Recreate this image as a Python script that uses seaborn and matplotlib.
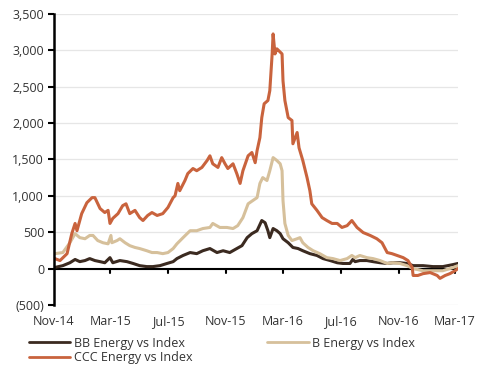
import matplotlib
matplotlib.use("Agg")
import matplotlib.pyplot as plt
import seaborn as sns
import pandas as pd

bb_dates = ["2014-11-03","2014-11-20","2014-12-05","2014-12-16","2014-12-26","2015-01-06","2015-01-16","2015-01-27","2015-02-07","2015-02-17","2015-02-28","2015-03-06","2015-03-21","2015-04-05","2015-04-18","2015-05-02","2015-05-17","2015-05-30","2015-06-14","2015-06-29","2015-07-12","2015-07-20","2015-08-02","2015-08-17","2015-08-31","2015-09-13","2015-09-28","2015-10-13","2015-10-26","2015-11-09","2015-11-24","2015-12-05","2015-12-16","2015-12-26","2016-01-06","2016-01-16","2016-01-23","2016-01-29","2016-02-02","2016-02-09","2016-02-17","2016-02-24","2016-03-01","2016-03-12","2016-03-22","2016-04-02","2016-04-12","2016-04-27","2016-05-12","2016-05-25","2016-06-09","2016-06-24","2016-07-06","2016-07-21","2016-07-27","2016-08-01","2016-08-11","2016-08-26","2016-09-08","2016-09-23","2016-10-08","2016-10-20","2016-11-04","2016-11-19","2016-12-02","2016-12-23","2017-01-13","2017-02-03","2017-02-25","2017-03-07"]
bb_vals = [15,40,80,125,95,110,137,110,95,80,150,80,110,95,70,40,27,27,40,70,95,137,180,220,205,245,275,220,245,220,275,315,425,480,520,660,630,520,425,550,520,480,410,355,290,275,245,205,180,137,110,80,70,70,125,95,110,110,95,80,70,80,80,70,40,40,27,27,55,70]

b_dates = ["2014-11-03","2014-11-20","2014-12-05","2014-12-16","2014-12-26","2015-01-06","2015-01-16","2015-01-23","2015-02-02","2015-02-13","2015-02-24","2015-03-02","2015-03-04","2015-03-15","2015-03-21","2015-04-01","2015-04-11","2015-04-22","2015-05-02","2015-05-17","2015-05-28","2015-06-08","2015-06-20","2015-07-01","2015-07-12","2015-07-20","2015-08-02","2015-08-17","2015-08-31","2015-09-13","2015-09-28","2015-10-04","2015-10-19","2015-11-03","2015-11-16","2015-11-26","2015-12-07","2015-12-18","2015-12-28","2016-01-06","2016-01-12","2016-01-18","2016-01-27","2016-02-02","2016-02-09","2016-02-17","2016-02-24","2016-02-28","2016-03-01","2016-03-05","2016-03-12","2016-03-20","2016-03-31","2016-04-06","2016-04-12","2016-04-23","2016-05-04","2016-05-18","2016-06-02","2016-06-15","2016-06-30","2016-07-15","2016-07-25","2016-08-01","2016-08-11","2016-08-26","2016-09-08","2016-09-23","2016-10-08","2016-10-20","2016-11-04","2016-11-19","2016-12-02","2016-12-23","2017-01-13","2017-02-03","2017-02-25","2017-03-07"]
b_vals = [205,220,355,480,425,410,455,455,385,355,340,455,355,385,410,355,315,290,275,245,220,220,205,220,275,340,425,520,520,550,565,620,565,565,550,590,700,890,935,975,1170,1250,1210,1345,1525,1485,1440,1345,935,620,455,385,410,425,355,290,245,205,150,137,110,137,180,150,180,150,137,110,70,80,70,40,0,-30,-30,-30,15,40]

ccc_dates = ["2014-11-03","2014-11-14","2014-11-29","2014-12-09","2014-12-16","2014-12-20","2014-12-30","2015-01-10","2015-01-21","2015-01-27","2015-02-07","2015-02-17","2015-02-24","2015-02-28","2015-03-06","2015-03-17","2015-03-27","2015-04-03","2015-04-11","2015-04-22","2015-05-02","2015-05-09","2015-05-19","2015-05-28","2015-06-08","2015-06-20","2015-07-01","2015-07-12","2015-07-16","2015-07-22","2015-07-26","2015-08-06","2015-08-12","2015-08-23","2015-08-31","2015-09-11","2015-09-22","2015-09-28","2015-10-04","2015-10-15","2015-10-23","2015-10-30","2015-11-05","2015-11-16","2015-11-24","2015-12-01","2015-12-07","2015-12-18","2015-12-26","2016-01-02","2016-01-06","2016-01-12","2016-01-16","2016-01-21","2016-01-29","2016-02-02","2016-02-07","2016-02-09","2016-02-13","2016-02-17","2016-02-21","2016-02-28","2016-03-01","2016-03-05","2016-03-12","2016-03-20","2016-03-22","2016-03-31","2016-04-04","2016-04-12","2016-04-21","2016-04-27","2016-05-01","2016-05-12","2016-05-23","2016-06-02","2016-06-13","2016-06-24","2016-07-04","2016-07-15","2016-07-25","2016-08-05","2016-08-18","2016-09-02","2016-09-16","2016-09-27","2016-10-08","2016-10-18","2016-10-29","2016-11-11","2016-11-21","2016-11-30","2016-12-02","2016-12-12","2016-12-23","2017-01-07","2017-01-22","2017-01-28","2017-02-08","2017-02-18","2017-03-01","2017-03-07"]
ccc_vals = [137,110,205,480,620,520,755,905,975,975,825,770,800,620,690,755,865,890,755,800,700,660,730,770,730,755,840,975,1000,1170,1070,1210,1305,1375,1345,1390,1485,1550,1440,1390,1525,1440,1375,1440,1305,1170,1345,1550,1595,1455,1620,1800,2075,2265,2310,2445,2950,3225,2950,3020,2995,2950,2580,2310,2075,2035,1715,1870,1660,1485,1250,1070,890,800,700,660,620,620,565,590,660,565,495,455,410,355,220,205,180,150,110,15,-95,-95,-70,-55,-95,-135,-95,-70,-30,0]

series_names = ["BB Energy vs Index", "B Energy vs Index", "CCC Energy vs Index"]
series_colors = ["#3b2a20", "#d6c09b", "#c9633d"]

y_ticks = [-500, 0, 500, 1000, 1500, 2000, 2500, 3000, 3500]
y_labels = ["(500)", "0", "500", "1,000", "1,500", "2,000", "2,500", "3,000", "3,500"]
x_ticks = ["2014-11-01", "2015-03-01", "2015-07-01", "2015-11-01", "2016-03-01", "2016-07-01", "2016-11-01", "2017-03-01"]
x_labels = ["Nov-14", "Mar-15", "Jul-15", "Nov-15", "Mar-16", "Jul-16", "Nov-16", "Mar-17"]

frames = []
for name, d, v in [(series_names[0], bb_dates, bb_vals), (series_names[1], b_dates, b_vals), (series_names[2], ccc_dates, ccc_vals)]:
    frames.append(pd.DataFrame({"date": pd.to_datetime(d), "value": v, "series": name}))
df = pd.concat(frames, ignore_index=True)

sns.set_theme(style="white")
plt.rcParams["font.family"] = ["Open Sans", "DejaVu Sans"]

fig = plt.figure(figsize=(4.81, 3.76), dpi=100)
ax = fig.add_axes([0.112, 0.189, 0.84, 0.774])

sns.lineplot(data=df, x="date", y="value", hue="series", hue_order=series_names,
             palette=series_colors, linewidth=2.2, ax=ax, legend=False, estimator=None, sort=True)

ax.set_ylim(-500, 3500)
ax.set_xlim(pd.Timestamp("2014-11-01"), pd.Timestamp("2017-03-07"))
ax.set_yticks(y_ticks)
ax.set_yticklabels(y_labels)
ax.set_xticks(pd.to_datetime(x_ticks))
ax.set_xticklabels([])
for t, lab in zip(pd.to_datetime(x_ticks), x_labels):
    ax.annotate(lab, xy=(t, -500), xycoords="data", xytext=(0, -7.5), textcoords="offset points",
                ha="center", va="top", fontsize=9, color="#333333")
ax.set_xlabel("")
ax.set_ylabel("")
for yt in y_ticks:
    ax.axhline(yt, color="#e6e6e6", linewidth=0.9, zorder=0)
ax.axhline(0, color="black", linewidth=1.5, zorder=1)
for s in ["top", "right", "bottom"]:
    ax.spines[s].set_visible(False)
ax.spines["left"].set_color("black")
ax.spines["left"].set_linewidth(1.8)
ax.tick_params(axis="y", which="both", left=True, length=4, width=1.5, color="black",
               labelsize=9, labelcolor="#333333", pad=3)
ax.tick_params(axis="x", which="both", bottom=False)
for t in pd.to_datetime(x_ticks)[1:]:
    ax.plot([t, t], [0, -55], color="black", linewidth=1.5, zorder=1, clip_on=False)

handles = [plt.Line2D([], [], color=series_colors[0], linewidth=2.0),
           plt.Line2D([], [], color=series_colors[2], linewidth=2.0),
           plt.Line2D([], [], color=series_colors[1], linewidth=2.0)]
labels = [series_names[0], series_names[2], series_names[1]]
fig.legend(handles, labels, loc="upper left", bbox_to_anchor=(0.06, 0.105), ncol=2,
           frameon=False, fontsize=9, handlelength=3.3, handletextpad=0.3,
           columnspacing=6.0, labelspacing=0.15, borderaxespad=0, borderpad=0,
           labelcolor="#333333")

fig.savefig("out.png", dpi=100, facecolor="white")
